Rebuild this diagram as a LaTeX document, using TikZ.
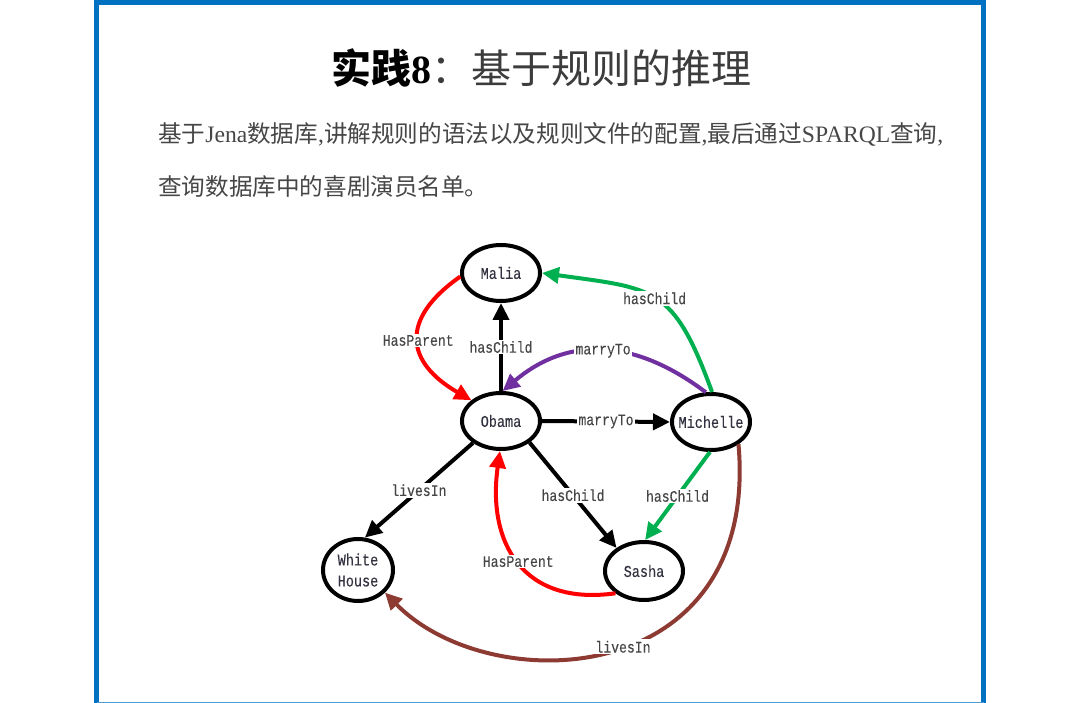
\documentclass[tikz,border=0pt]{standalone}
\usepackage{fontspec}
\setmainfont{Liberation Serif}
\newfontfamily\cjk{Noto Sans CJK SC}
\newfontfamily\gmono[FakeStretch=0.82,FakeBold=0.15]{Liberation Mono}
\usetikzlibrary{arrows.meta,shapes.geometric}
\definecolor{frameblue}{RGB}{0,112,192}
\definecolor{txtgray}{RGB}{70,70,70}
\definecolor{titlegray}{RGB}{60,60,60}
\definecolor{nodetxt}{RGB}{50,50,64}
\definecolor{grgreen}{RGB}{0,176,80}
\definecolor{grpurple}{RGB}{112,48,160}
\definecolor{grbrown}{RGB}{140,58,50}
\definecolor{grred}{RGB}{255,0,0}
\begin{document}
\begin{tikzpicture}[x=1pt,y=1pt,
  ent/.style={ellipse, draw=black, line width=4pt, fill=white, inner sep=0pt,
    minimum width=78pt, minimum height=56pt, align=center,
    font=\gmono\fontsize{16.5}{21}\selectfont, text=nodetxt},
  rel/.style={line width=4pt, -{Triangle[length=17pt,width=16pt]}},
  lab/.style={fill=white, inner sep=1.5pt, font=\gmono\fontsize{16}{17}\selectfont, text=txtgray},
  titletext/.style={inner sep=0pt, font=\fontsize{40}{44}\selectfont},
  bodytext/.style={inner sep=0pt, anchor=base west, text=txtgray, font=\fontsize{23.6}{28}\selectfont}
]
\useasboundingbox (0,0) rectangle (1080,-703);
% frame
\draw[frameblue, line width=5pt] (96.5,-712) -- (96.5,-2.5) -- (983.5,-2.5) -- (983.5,-712);
\draw[frameblue!70, line width=2pt] (96.5,-703) -- (983.5,-703);

% title and text
\node[titletext] (title) at (541,-68) {{\cjk\bfseries 实践}{\bfseries 8}{\cjk\color{titlegray}：基于规则的推理}};
\node[bodytext] (line1) at (158,-143) {{\cjk 基于}Jena{\cjk 数据库},{\cjk 讲解规则的语法以及规则文件的配置},{\cjk 最后通过}SPARQL{\cjk 查询},};
\node[bodytext] (line2) at (158,-196) {{\cjk 查询数据库中的喜剧演员名单。}};

% nodes
\node[ent] (Malia) at (501,-273) {Malia};
\node[ent] (Obama) at (501,-421) {Obama};
\node[ent] (Michelle) at (711,-422) {\makebox[50pt][c]{Michelle}};
\node[ent, minimum width=78pt, minimum height=58pt] (Sasha) at (644,-571) {Sasha};
\node[ent, minimum width=70pt, minimum height=62pt] (WH) at (358,-570) {White\\House};

% edges
\draw[rel] (Obama.north) -- node[lab]{hasChild} (Malia.south);
\draw[rel,grred] (Malia.185) to[out=215,in=150,looseness=1.55] node[lab]{HasParent} (Obama.145);
\draw[rel,grpurple] (Michelle.100) to[out=143,in=40,looseness=1.1] node[lab]{marryTo} (Obama.87);
\draw[rel,grgreen] (Michelle.88) to[out=110,in=-8,looseness=1.4] node[lab]{hasChild} (Malia.east);
\draw[rel] (Obama.east) -- node[lab]{marryTo} (Michelle.west);
\draw[rel] (Obama.218) -- node[lab]{livesIn} (WH.78);
\draw[rel] (Obama.323) -- node[lab]{hasChild} (Sasha.140);
\draw[rel,grgreen] (Michelle.268) -- node[lab]{hasChild} (Sasha.88);
\draw[rel,grred] (Sasha.218) to[out=188,in=262,looseness=1.3] node[lab]{HasParent} (Obama.268);
\draw[rel,grbrown] (Michelle.321) .. controls (760,-690) and (490,-700) .. (WH.320) node[lab,pos=0.47]{livesIn};
\end{tikzpicture}
\end{document}
